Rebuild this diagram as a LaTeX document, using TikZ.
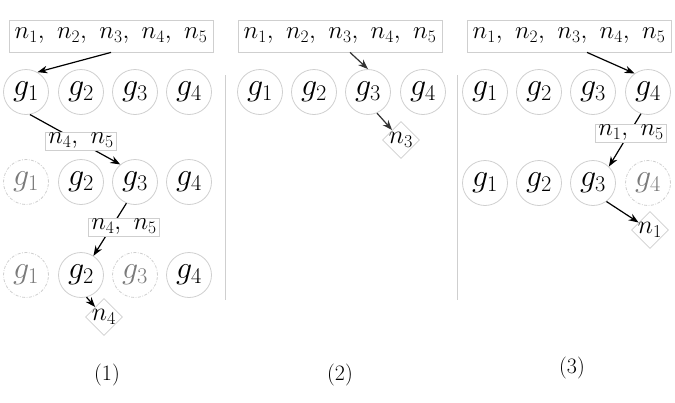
\documentclass[tikz,border=0pt]{standalone}
\usepackage{fix-cm}
\usetikzlibrary{shapes.geometric,arrows.meta,calc}
\definecolor{edgegray}{HTML}{CFCFCF}
\definecolor{dimtext}{HTML}{7A7A7A}
\definecolor{arrowdark}{HTML}{333333}
\newcommand{\gapp}{\hspace{0.33em}}
\begin{document}
\begin{tikzpicture}[x=1pt,y=-1pt,
  grp/.style={circle,draw=edgegray,line width=0.8pt,minimum size=45pt,inner sep=0pt,
    font=\fontsize{32}{38}\selectfont},
  grpoff/.style={grp,draw=edgegray,dash pattern=on 3pt off 1.5pt on 0.8pt off 1.5pt,text=dimtext},
  allbox/.style={rectangle,draw=edgegray,line width=0.8pt,minimum height=32pt,minimum width=204pt,
    inner xsep=4pt,inner ysep=0pt,font=\fontsize{25}{30}\selectfont},
  lblbox/.style={rectangle,draw=edgegray,fill=white,line width=0.8pt,minimum height=18pt,
    minimum width=71pt,inner xsep=1pt,inner ysep=0pt,font=\fontsize{25}{30}\selectfont},
  leaf/.style={diamond,draw=edgegray,fill=white,line width=0.8pt,minimum width=37pt,
    minimum height=37pt,inner sep=-4pt,font=\fontsize{26}{31}\selectfont},
  arr/.style={line width=1.2pt,-{Stealth[length=10pt,width=7.5pt]}},
  sepline/.style={draw=edgegray,line width=0.8pt},
  captext/.style={font=\fontsize{22}{26}\selectfont}]
\useasboundingbox (0,0) rectangle (675,402);

% ---------- Panel 1 ----------
\node[allbox] (top1) at (111,36) {$n_1,\gapp n_2,\gapp n_3,\gapp n_4,\gapp n_5$};
\node[grp] (a11) at (26,92) {$g_1$};
\node[grp] (a12) at (81,92) {$g_2$};
\node[grp] (a13) at (135,92) {$g_3$};
\node[grp] (a14) at (189,92) {$g_4$};
\node[grpoff] (a21) at (26,182) {$g_1$};
\node[grp] (a22) at (81,182) {$g_2$};
\node[grp] (a23) at (135,182) {$g_3$};
\node[grp] (a24) at (189,182) {$g_4$};
\node[grpoff] (a31) at (26,275) {$g_1$};
\node[grp] (a32) at (81,275) {$g_2$};
\node[grpoff] (a33) at (135,275) {$g_3$};
\node[grp] (a34) at (189,275) {$g_4$};
\node[leaf] (d1) at (104,317) {$n_4$};

\draw[arr] (top1.south) -- (a11.60);
\draw[arr] (a11.280) -- (a23.130);
\draw[arr] (a23.248) -- (a32.57);
\draw[arr] (a32.284) -- (d1);
\node[lblbox] (l11) at (81,141) {$n_4,\gapp n_5$};
\node[lblbox] (l12) at (124,227) {$n_4,\gapp n_5$};

\node[captext] (c1) at (107,375) {(1)};

% separator
\coordinate (s1a) at (225,75);
\coordinate (s1b) at (225,300);
\draw[sepline] (s1a) -- (s1b);

% ---------- Panel 2 ----------
\node[allbox] (top2) at (340,36) {$n_1,\gapp n_2,\gapp n_3,\gapp n_4,\gapp n_5$};
\node[grp] (b11) at (260,92) {$g_1$};
\node[grp] (b12) at (314,92) {$g_2$};
\node[grp] (b13) at (368,92) {$g_3$};
\node[grp] (b14) at (423,92) {$g_4$};
\node[leaf] (d2) at (401,140) {$n_3$};
\coordinate (o2) at ([xshift=10pt]top2.south);
\draw[arr,draw=arrowdark,fill=arrowdark] (o2) -- (b13.90);
\draw[arr,draw=arrowdark,fill=arrowdark] (b13.293) -- (d2);

\node[captext] (c2) at (340,375) {(2)};

% separator
\coordinate (s2a) at (457,75);
\coordinate (s2b) at (457,300);
\draw[sepline] (s2a) -- (s2b);

% ---------- Panel 3 ----------
\node[allbox] (top3) at (569,36) {$n_1,\gapp n_2,\gapp n_3,\gapp n_4,\gapp n_5$};
\node[grp] (e11) at (485,92) {$g_1$};
\node[grp] (e12) at (539,92) {$g_2$};
\node[grp] (e13) at (593,92) {$g_3$};
\node[grp] (e14) at (648,92) {$g_4$};
\node[grp] (e21) at (485,183) {$g_1$};
\node[grp] (e22) at (539,183) {$g_2$};
\node[grp] (e23) at (593,183) {$g_3$};
\node[grpoff] (e24) at (648,183) {$g_4$};
\node[leaf] (d3) at (650,230) {$n_1$};
\coordinate (o3) at ([xshift=18pt]top3.south);
\draw[arr] (o3) -- (e14.126);
\draw[arr] (e14.252) -- (e23.46);
\draw[arr] (e23.306) -- (d3);
\node[lblbox] (l31) at (631,133) {$n_1,\gapp n_5$};

\node[captext] (c3) at (572,368) {(3)};
\end{tikzpicture}
\end{document}
